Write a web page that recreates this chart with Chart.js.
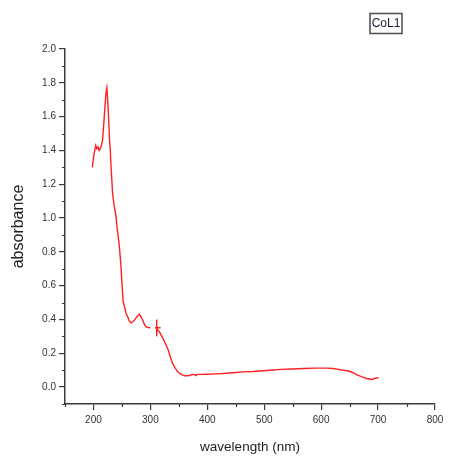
<!DOCTYPE html>
<html>
<head>
<meta charset="utf-8">
<script src="https://cdn.jsdelivr.net/npm/chart.js@4.4.0/dist/chart.umd.min.js"></script>
<style>
html,body{margin:0;padding:0;background:#fff;}
#wrap{position:relative;width:459px;height:462px;}
</style>
</head>
<body>
<div id="wrap"><canvas id="c" width="459" height="462"></canvas></div>
<script>
const seriesName = 'CoL1';
const wavelengths = [198,201,204,206,208,210,212,214,216,219,222,223.5,225,226.5,228,229.5,231,233.5,236,239.5,242,245,248,250,252,255,257,260,263,266,269,272,276,280.5,283,286.5,289,292,296,300,305,308,318,311,311,311,311.5,316,320,325,331,335,339,344,348,352,356,360,365,370,374,378,380,382,390,400,415,427,445,463,480,492,510,530,550,569,590,610,621,635,648,656,663,672,680,689,695,701];
const absorbance = [1.30,1.38,1.43,1.41,1.42,1.40,1.41,1.43,1.46,1.60,1.74,1.77,1.70,1.60,1.48,1.40,1.30,1.15,1.08,1.01,0.93,0.85,0.73,0.62,0.51,0.47,0.44,0.416,0.39,0.38,0.385,0.396,0.415,0.432,0.42,0.396,0.375,0.357,0.352,0.351,null,0.351,0.351,0.351,0.40,0.30,0.345,0.327,0.30,0.268,0.223,0.18,0.14,0.11,0.09,0.08,0.072,0.067,0.067,0.07,0.075,0.073,0.068,0.075,0.075,0.076,0.078,0.08,0.085,0.09,0.092,0.095,0.1,0.105,0.107,0.11,0.112,0.112,0.11,0.102,0.095,0.085,0.072,0.06,0.051,0.045,0.052,0.055];
const xTickValues = [200,300,400,500,600,700,800];
const xTickLabels = ['200','300','400','500','600','700','800'];
const xMinorTicks = [150,250,350,450,550,650,750];
const yTickValues = [0,0.2,0.4,0.6,0.8,1.0,1.2,1.4,1.6,1.8,2.0];
const yTickLabels = ['0.0','0.2','0.4','0.6','0.8','1.0','1.2','1.4','1.6','1.8','2.0'];
const yMinorTicks = [-0.1,0.1,0.3,0.5,0.7,0.9,1.1,1.3,1.5,1.7,1.9];

const points = wavelengths.map((w,i)=>({x:w,y:absorbance[i]}));
const axisColor = '#3a3a3a';
const tickFont = {family:'"Liberation Sans", Arial, sans-serif', size:10};

const minorTicksPlugin = {
  id:'minorTicks',
  afterDraw(chart){
    const ctx = chart.ctx;
    const xs = chart.scales.x, ys = chart.scales.y;
    ctx.save();
    ctx.strokeStyle = axisColor;
    ctx.lineWidth = 1.2;
    ctx.beginPath();
    xMinorTicks.forEach(v=>{
      const px = Math.round(xs.getPixelForValue(v))+0.5;
      ctx.moveTo(px, xs.top); ctx.lineTo(px, xs.top+3);
    });
    yMinorTicks.forEach(v=>{
      const py = Math.round(ys.getPixelForValue(v))+0.5;
      ctx.moveTo(ys.right, py); ctx.lineTo(ys.right-3, py);
    });
    ctx.stroke();
    ctx.restore();
  }
};

const legendBoxPlugin = {
  id:'legendBox',
  afterDraw(chart){
    const ctx = chart.ctx;
    ctx.save();
    ctx.strokeStyle = '#555';
    ctx.lineWidth = 1.6;
    ctx.strokeRect(370, 13.5, 32, 20);
    ctx.fillStyle = '#1c1c3a';
    ctx.font = '12px "Liberation Sans", Arial, sans-serif';
    ctx.textAlign = 'center';
    ctx.textBaseline = 'middle';
    ctx.fillText(seriesName, 386, 24);
    ctx.restore();
  }
};

new Chart(document.getElementById('c'), {
  type:'line',
  data:{datasets:[{
    label:seriesName,
    data:points,
    borderColor:'#ff2020',
    borderWidth:1.4,
    pointRadius:0,
    tension:0,
    spanGaps:false,
    fill:false
  }]},
  options:{
    responsive:false,
    animation:false,
    devicePixelRatio:1,
    layout:{padding:{left:0,top:49,right:24,bottom:0}},
    plugins:{legend:{display:false},tooltip:{enabled:false}},
    scales:{
      x:{
        type:'linear',
        min:150,max:800,
        afterBuildTicks(s){ s.ticks = xTickValues.map(v=>({value:v})); },
        afterFit(s){ s.height = 58; },
        ticks:{
          autoSkip:false, maxRotation:0, padding:4,
          color:'#333', font:tickFont,
          callback:(v,i)=>xTickLabels[i]
        },
        grid:{display:true, drawOnChartArea:false, drawTicks:true, tickLength:6, color:axisColor, lineWidth:1.2},
        border:{display:true, color:axisColor, width:1.5},
        title:{display:true, text:'wavelength (nm)', color:'#222',
          font:{family:'"Liberation Sans", Arial, sans-serif', size:13.5},
          padding:{top:0,bottom:7}}
      },
      y:{
        type:'linear',
        min:-0.1,max:2.0,
        afterBuildTicks(s){ s.ticks = yTickValues.map(v=>({value:v})); },
        afterFit(s){ s.width = 65; },
        ticks:{
          autoSkip:false, padding:3,
          color:'#333', font:tickFont,
          callback:(v,i)=>yTickLabels[i]
        },
        grid:{display:true, drawOnChartArea:false, drawTicks:true, tickLength:6, color:axisColor, lineWidth:1.2},
        border:{display:true, color:axisColor, width:1.5},
        title:{display:true, text:'absorbance', color:'#222',
          font:{family:'"Liberation Sans", Arial, sans-serif', size:16},
          padding:{top:9,bottom:0}}
      }
    }
  },
  plugins:[minorTicksPlugin, legendBoxPlugin]
});
</script>
</body>
</html>
